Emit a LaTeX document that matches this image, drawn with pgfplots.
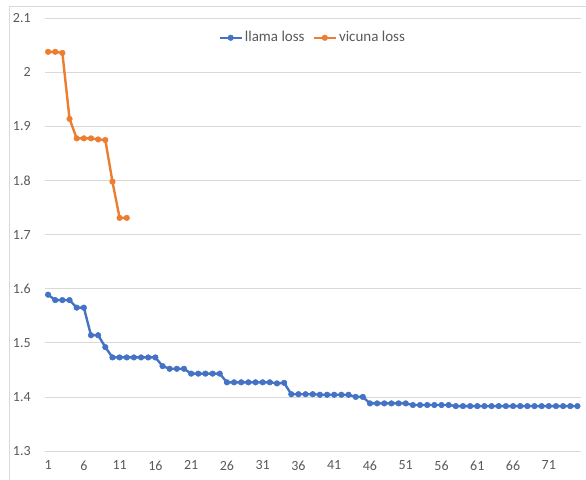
\documentclass[border=0pt]{standalone}
\usepackage{pgfplots}
\pgfplotsset{compat=1.18}
\usepackage{fontspec}
\setmainfont{Carlito}
\definecolor{llama}{HTML}{4472C4}
\definecolor{vicuna}{HTML}{ED7D31}
\definecolor{gridc}{HTML}{D9D9D9}
\definecolor{txt}{HTML}{595959}

\begin{document}
\fontsize{14bp}{16bp}\selectfont
\begin{tikzpicture}[x=1bp,y=1bp]
  \path[use as bounding box] (0,0) rectangle (586,480);
  \draw[gridc, line width=0.8bp] (9,0) -- (9,474) -- (586,474);
  \begin{axis}[
      at={(44.5bp,29bp)}, anchor=south west,
      scale only axis,
      width=536.5bp, height=432.7bp,
      xmin=0.5, xmax=75.5,
      ymin=1.3, ymax=2.1,
      xtick={1,6,...,71},
      ytick={1.3,1.4,...,2.1},
      axis line style={draw=none},
      major tick length=0pt,
      ymajorgrids,
      grid style={gridc, line width=0.8bp},
      tick label style={font=\fontsize{14bp}{16bp}\selectfont, text=txt},
      yticklabel style={xshift=-9bp},
      xticklabel style={yshift=-5bp},
      /pgf/number format/assume math mode=true,
      yticklabel={\pgfmathprintnumber[fixed,precision=1]{\tick}},
      legend columns=2,
      legend style={at={(0.5,0.955)}, anchor=center, draw=none, fill=none,
        font=\fontsize{15bp}{17bp}\selectfont, text=txt,
        /tikz/every even column/.append style={column sep=6bp}},
      legend image code/.code={%
        \draw[mark repeat=2,mark phase=2,#1] plot coordinates {(0bp,0bp) (11bp,0bp) (22bp,0bp)};},
      every axis plot/.append style={line width=2.4bp, mark=*, mark size=2.8bp},
    ]
    \addplot[llama, mark options={fill=llama, draw=llama, line width=0.5bp}] coordinates {
      (1,1.589) (2,1.579) (3,1.579) (4,1.579) (5,1.565) (6,1.565) (7,1.514) (8,1.514)
      (9,1.492) (10,1.473) (11,1.473) (12,1.473) (13,1.473) (14,1.473) (15,1.473) (16,1.473)
      (17,1.457) (18,1.452) (19,1.452) (20,1.452) (21,1.443) (22,1.443) (23,1.443) (24,1.443)
      (25,1.443) (26,1.427) (27,1.427) (28,1.427) (29,1.427) (30,1.427) (31,1.427) (32,1.427)
      (33,1.425) (34,1.426) (35,1.405) (36,1.405) (37,1.405) (38,1.405) (39,1.404) (40,1.404)
      (41,1.404) (42,1.404) (43,1.404) (44,1.400) (45,1.400) (46,1.388) (47,1.388) (48,1.388)
      (49,1.388) (50,1.388) (51,1.388) (52,1.385) (53,1.385) (54,1.385) (55,1.385) (56,1.385)
      (57,1.385) (58,1.383) (59,1.383) (60,1.383) (61,1.383) (62,1.383) (63,1.383) (64,1.383)
      (65,1.383) (66,1.383) (67,1.383) (68,1.383) (69,1.383) (70,1.383) (71,1.383) (72,1.383)
      (73,1.383) (74,1.383) (75,1.383)
    };
    \addlegendentry{llama loss}
    \addplot[vicuna, mark options={fill=vicuna, draw=vicuna, line width=0.5bp}] coordinates {
      (1,2.038) (2,2.038) (3,2.036) (4,1.914) (5,1.878) (6,1.878) (7,1.878) (8,1.876)
      (9,1.875) (10,1.798) (11,1.731) (12,1.731)
    };
    \addlegendentry{vicuna loss}
  \end{axis}
\end{tikzpicture}
\end{document}
